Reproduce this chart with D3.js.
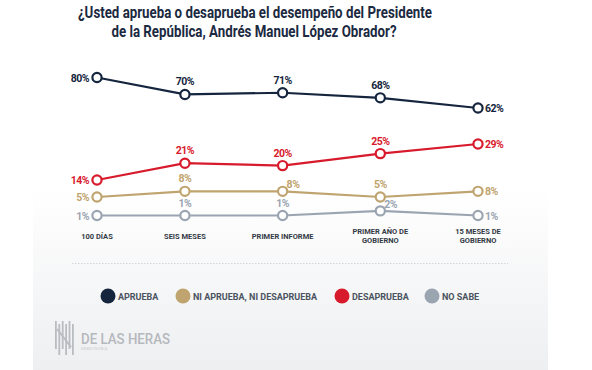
<!DOCTYPE html>
<html lang="es">
<head>
  <meta charset="UTF-8">
  <title>Aprobación presidencial</title>
  <script src="https://d3js.org/d3.v7.min.js"></script>
  <style>
    body {
      margin: 0;
      padding: 0;
      background: #fff;
      font-family: "Roboto", "Open Sans", sans-serif;
    }
    .title {
      font-weight: 700;
      fill: #1b2a41;
      font-size: 17px;
      text-anchor: middle;
    }
    .tick-label {
      font-size: 7.5px;
      font-weight: 700;
      fill: #333a45;
      text-anchor: middle;
    }
    .value-label {
      font-size: 10.5px;
      font-weight: 700;
      letter-spacing: -0.5px;
    }
    .legend-text {
      font-size: 9px;
      font-weight: 700;
      fill: #4b5360;
    }
  </style>
</head>
<body>
  <div id="chart"></div>

  <script>
    const width = 592;
    const height = 370;

    // momentos de la medición y meses de gobierno transcurridos
    const categories = ["100 DÍAS", "SEIS MESES", "PRIMER INFORME", "PRIMER AÑO DE GOBIERNO", "15 MESES DE GOBIERNO"];
    const monthsInOffice = [3.3, 6, 9, 12, 15];
    const categoryLines = [["100 DÍAS"], ["SEIS MESES"], ["PRIMER INFORME"], ["PRIMER AÑO DE", "GOBIERNO"], ["15 MESES DE", "GOBIERNO"]];

    const aprueba = [80, 70, 71, 68, 62];
    const niNi = [5, 8, 8, 5, 8];
    const desaprueba = [14, 21, 20, 25, 29];
    const noSabe = [1, 1, 1, 2, 1];

    const seriesNames = ["APRUEBA", "NI APRUEBA, NI DESAPRUEBA", "DESAPRUEBA", "NO SABE"];
    const seriesColors = ["#14253d", "#bfa46f", "#d71a2c", "#9ba5b1"];
    // where each value label sits relative to its point
    const labelPlacement = [
      ["left", "top", "top", "top", "right"],
      ["left", "top", "topright", "top", "right"],
      ["left", "top", "top", "top", "right"],
      ["left", "top", "top", "topright", "right"]
    ];

    const series = [aprueba, niNi, desaprueba, noSabe].map((values, i) => ({
      name: seriesNames[i],
      color: seriesColors[i],
      values: values.map((v, j) => ({ m: monthsInOffice[j], v, place: labelPlacement[i][j] }))
    }));

    const svg = d3.select("#chart").append("svg")
      .attr("width", width)
      .attr("height", height);

    const defs = svg.append("defs");
    const grad = defs.append("linearGradient")
      .attr("id", "panelGrad")
      .attr("x1", 0).attr("y1", 0).attr("x2", 0).attr("y2", 1);
    grad.append("stop").attr("offset", "0%").attr("stop-color", "#ffffff");
    grad.append("stop").attr("offset", "100%").attr("stop-color", "#eeeff1");

    svg.append("rect")
      .attr("x", 33).attr("y", 190)
      .attr("width", 515).attr("height", 180)
      .attr("fill", "url(#panelGrad)");

    // title
    const title = svg.append("text").attr("class", "title");
    title.append("tspan").attr("x", 255).attr("y", 18)
      .attr("textLength", 354).attr("lengthAdjust", "spacingAndGlyphs")
      .text("¿Usted aprueba o desaprueba el desempeño del Presidente");
    title.append("tspan").attr("x", 254).attr("y", 37)
      .attr("textLength", 285).attr("lengthAdjust", "spacingAndGlyphs")
      .text("de la República, Andrés Manuel López Obrador?");

    const x = d3.scaleLinear()
      .domain([3.3, 15])
      .range([97, 478]);

    // the chart stacks the series in lanes, so the vertical scale is piecewise
    const y = d3.scaleLinear()
      .domain([1, 5, 14, 29, 62, 80])
      .range([215.5, 197, 180, 144, 108, 77.5]);

    const line = d3.line()
      .x(d => x(d.m))
      .y(d => y(d.v));

    // category labels
    const ticks = svg.append("g");
    categoryLines.forEach((lines, i) => {
      const t = ticks.append("text")
        .attr("class", "tick-label")
        .attr("y", lines.length > 1 ? 234 : 239);
      lines.forEach((l, k) => {
        t.append("tspan")
          .attr("x", x(monthsInOffice[i]))
          .attr("dy", k === 0 ? 0 : 9)
          .text(l);
      });
    });

    // dotted separator
    svg.append("line")
      .attr("x1", 72).attr("x2", 508)
      .attr("y1", 263.5).attr("y2", 263.5)
      .attr("stroke", "#d3d6da")
      .attr("stroke-width", 1)
      .attr("stroke-dasharray", "1.5,1.5");

    // lines, drawn bottom series first
    const groups = svg.selectAll(".series")
      .data(series.slice().reverse())
      .enter().append("g")
      .attr("class", "series");

    groups.append("path")
      .attr("d", d => line(d.values))
      .attr("fill", "none")
      .attr("stroke", d => d.color)
      .attr("stroke-width", 2.2);

    groups.selectAll("circle")
      .data(d => d.values.map(p => ({ ...p, color: d.color })))
      .enter().append("circle")
      .attr("cx", d => x(d.m))
      .attr("cy", d => y(d.v))
      .attr("r", 4.6)
      .attr("fill", "#fff")
      .attr("stroke", d => d.color)
      .attr("stroke-width", 2.2);

    groups.selectAll(".value-label")
      .data(d => d.values.map(p => ({ ...p, color: d.color })))
      .enter().append("text")
      .attr("class", "value-label")
      .attr("fill", d => d.color)
      .attr("x", d => {
        const px = x(d.m);
        if (d.place === "left") return px - 8;
        if (d.place === "right") return px + 7;
        if (d.place === "topright") return px + 4;
        return px;
      })
      .attr("y", d => {
        const py = y(d.v);
        if (d.place === "top") return py - 9;
        if (d.place === "topright") return py - 3;
        return py + 4;
      })
      .attr("text-anchor", d => d.place === "left" ? "end" : d.place === "top" ? "middle" : "start")
      .text(d => d.v + "%");

    // legend
    const legendX = [108, 183, 342, 432];
    const legend = svg.selectAll(".legend")
      .data(series)
      .enter().append("g")
      .attr("transform", (d, i) => `translate(${legendX[i]},296)`);

    legend.append("circle")
      .attr("r", 7.5)
      .attr("fill", d => d.color);

    legend.append("text")
      .attr("class", "legend-text")
      .attr("x", 10)
      .attr("y", 3.5)
      .text(d => d.name);

    // logo
    const logo = svg.append("g").attr("transform", "translate(55,321)").attr("fill", "#b9bcc1");
    d3.range(6).forEach(i => {
      logo.append("rect")
        .attr("x", i * 3.4)
        .attr("y", i % 2 === 0 ? 0 : 3)
        .attr("width", 1.8)
        .attr("height", i % 2 === 0 ? 28 : 31);
    });
    logo.append("path")
      .attr("d", "M2,8 L16,26")
      .attr("stroke", "#b9bcc1")
      .attr("stroke-width", 2)
      .attr("fill", "none");
    logo.append("text")
      .attr("x", 26).attr("y", 23)
      .attr("font-size", 15)
      .attr("font-weight", 500)
      .attr("fill", "#b5b8bd")
      .attr("textLength", 89)
      .attr("lengthAdjust", "spacingAndGlyphs")
      .text("DE LAS HERAS");
    logo.append("text")
      .attr("x", 26).attr("y", 29)
      .attr("font-size", 3.5)
      .attr("fill", "#c3c6ca")
      .attr("letter-spacing", 0.5)
      .text("DEMOTECNIA");
  </script>
</body>
</html>
